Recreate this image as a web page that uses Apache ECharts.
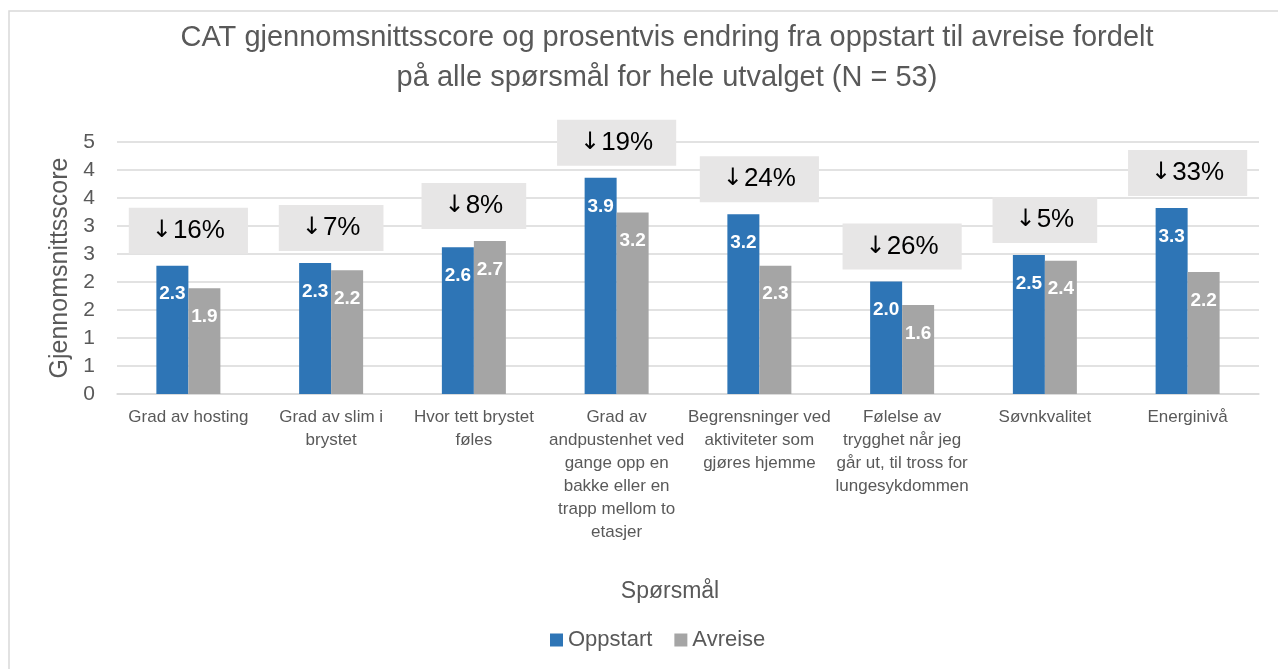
<!DOCTYPE html>
<html>
<head>
<meta charset="utf-8">
<script src="https://cdn.jsdelivr.net/npm/echarts@6/dist/echarts.min.js"></script>
<style>
html,body{margin:0;padding:0;background:#fff;}
#chart{width:1278px;height:669px;}
</style>
</head>
<body>
<div id="chart"></div>
<script>
// ---- data ----
const categories = [
  "Grad av hosting",
  "Grad av slim i\nbrystet",
  "Hvor tett brystet\nføles",
  "Grad av\nandpustenhet ved\ngange opp en\nbakke eller en\ntrapp mellom to\netasjer",
  "Begrensninger ved\naktiviteter som\ngjøres hjemme",
  "Følelse av\ntrygghet når jeg\ngår ut, til tross for\nlungesykdommen",
  "Søvnkvalitet",
  "Energinivå"
];
const oppstart = [2.29, 2.34, 2.62, 3.86, 3.21, 2.01, 2.48, 3.32];
const avreise  = [1.89, 2.21, 2.73, 3.24, 2.29, 1.59, 2.38, 2.18];
const pctChange = [16, 7, 8, 19, 24, 26, 5, 33];
const yTickLabels = ["0", "1", "1", "2", "2", "3", "3", "4", "4", "5"];
const seriesNames = ["Oppstart", "Avreise"];
const titleText = "CAT gjennomsnittsscore og prosentvis endring fra oppstart til avreise fordelt\npå alle spørsmål for hele utvalget (N = 53)";
const yAxisTitle = "Gjennomsnittsscore";
const xAxisTitle = "Spørsmål";

// ---- chart ----
const FONT = "'Liberation Sans Narrow', 'Liberation Sans', sans-serif";
const TXT = "#595959";
const chart = echarts.init(document.getElementById('chart'), null, {renderer: 'canvas'});

const annData = categories.map((c, i) => [i, Math.max(oppstart[i], avreise[i])]);

chart.setOption({
  animation: false,
  backgroundColor: '#ffffff',
  textStyle: {fontFamily: FONT},
  graphic: [
    {
      type: 'rect',
      shape: {x: 9, y: 11, width: 1300, height: 700},
      style: {fill: 'none', stroke: '#d9d9d9', lineWidth: 1.5},
      silent: true
    },
    {
      type: 'text',
      x: 667,
      y: 18,
      silent: true,
      style: {
        text: titleText,
        align: 'center',
        verticalAlign: 'top',
        fontFamily: FONT,
        fontSize: 29,
        lineHeight: 40,
        fill: TXT
      }
    }
  ],
  legend: {
    data: seriesNames,
    left: 545,
    top: 624,
    icon: 'rect',
    itemWidth: 13,
    itemHeight: 13,
    itemGap: 22,
    textStyle: {fontFamily: FONT, fontSize: 22, color: TXT}
  },
  grid: {left: 117, right: 19, top: 142, bottom: 275, containLabel: false},
  xAxis: {
    type: 'category',
    data: categories,
    name: xAxisTitle,
    nameLocation: 'middle',
    nameGap: 186,
    nameTextStyle: {fontFamily: FONT, fontSize: 23, color: TXT, padding: [0, 36, 0, 0]},
    axisLine: {lineStyle: {color: '#d9d9d9', width: 1.5}},
    axisTick: {show: false},
    axisLabel: {
      interval: 0,
      margin: 12,
      fontFamily: FONT,
      fontSize: 17,
      lineHeight: 23,
      color: TXT,
      align: 'center',
      verticalAlign: 'top'
    }
  },
  yAxis: {
    type: 'value',
    min: 0,
    max: 4.5,
    interval: 0.5,
    name: yAxisTitle,
    nameLocation: 'middle',
    nameGap: 44,
    nameTextStyle: {fontFamily: FONT, fontSize: 25, color: TXT},
    axisLine: {show: false},
    axisTick: {show: false},
    splitLine: {lineStyle: {color: '#d9d9d9', width: 1.5}},
    axisLabel: {
      margin: 22,
      fontFamily: FONT,
      fontSize: 21,
      color: TXT,
      formatter: (v) => yTickLabels[Math.round(v / 0.5)]
    }
  },
  series: [
    {
      name: seriesNames[0],
      type: 'bar',
      data: oppstart,
      barWidth: 32,
      barGap: '0%',
      itemStyle: {color: '#2e75b6'},
      label: {
        show: true, position: 'insideTop', distance: 19,
        color: '#ffffff', fontWeight: 'bold', fontSize: 19, fontFamily: FONT,
        formatter: (p) => p.value.toFixed(1)
      }
    },
    {
      name: seriesNames[1],
      type: 'bar',
      data: avreise,
      barWidth: 32,
      barGap: '0%',
      itemStyle: {color: '#a5a5a5'},
      label: {
        show: true, position: 'insideTop', distance: 19,
        color: '#ffffff', fontWeight: 'bold', fontSize: 19, fontFamily: FONT,
        formatter: (p) => p.value.toFixed(1)
      }
    },
    {
      name: 'annotations',
      type: 'custom',
      data: annData,
      silent: true,
      z: 10,
      encode: {x: 0, y: 1},
      renderItem: (params, api) => {
        const p = api.coord([api.value(0), api.value(1)]);
        return {
          type: 'text',
          x: p[0],
          y: p[1] - 12,
          style: {
            text: '{a|↓}' + pctChange[params.dataIndex] + '%',
            x: 0, y: 0,
            align: 'center',
            verticalAlign: 'bottom',
            fontFamily: FONT,
            fontSize: 26,
            fill: '#000000',
            backgroundColor: '#e7e6e6',
            padding: [10, 23],
            rich: {
              a: {fontFamily: "'DejaVu Sans', sans-serif", fontSize: 24, fill: '#000000', padding: [0, 1, 0, 0]}
            }
          }
        };
      }
    }
  ]
});
</script>
</body>
</html>
